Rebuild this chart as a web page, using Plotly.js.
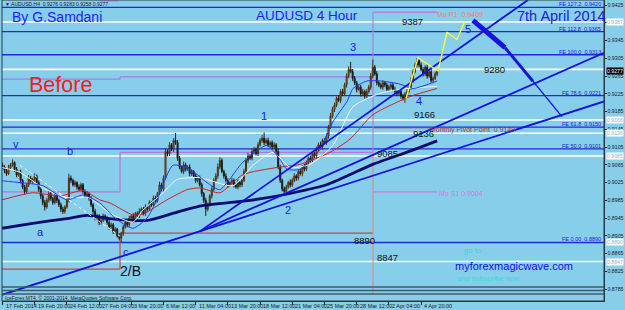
<!DOCTYPE html>
<html><head><meta charset="utf-8">
<script src="https://cdn.plot.ly/plotly-3.0.1.min.js"></script>
<style>html,body{margin:0;padding:0;background:#87CEEB;}#chart{width:625px;height:310px;}</style>
</head><body><div id="chart"></div>
<script>
// ---------- DATA (prices in pips, /10000 = price) ----------
const firstOpen = 9065;
const closes = [9060,9052,9045,9058,9065,9070,9055,9042,9048,9030,
9015,9005,9020,9035,9028,9032,9040,9025,9010,8995,
8980,8970,8985,9000,8990,8980,8995,8985,8975,8965,
8960,8970,8985,9035,9030,9020,9025,9015,9010,9020,
9005,8995,9000,8990,8975,8960,8945,8950,8935,8940,
8950,8945,8935,8925,8930,8915,8920,8905,8900,8910,
8925,8935,8930,8945,8950,8940,8955,8950,8960,8965,
8955,8970,8965,8980,8975,8990,8985,9000,9020,9010,
9035,9095,9090,9110,9100,9120,9115,9080,9060,9050,
9065,9055,9060,9045,9050,9040,9030,9035,9020,9000,
8985,8965,8975,8995,9010,9030,9040,9060,9075,9050,
9040,9030,9020,9025,9030,9020,9015,9025,9020,9030,
9050,9075,9085,9080,9095,9100,9090,9110,9120,9125,
9115,9120,9110,9115,9105,9110,9095,9060,9030,9010,
9005,9015,9025,9020,9030,9040,9035,9050,9045,9060,
9055,9070,9080,9075,9090,9085,9100,9110,9105,9120,
9115,9130,9150,9175,9190,9200,9215,9210,9230,9225,
9245,9265,9280,9275,9260,9250,9235,9240,9225,9230,
9220,9230,9240,9265,9285,9270,9250,9245,9240,9250,
9245,9235,9240,9245,9235,9230,9225,9230,9220,9215,
9225,9230,9240,9255,9275,9290,9300,9290,9280,9270,
9285,9265,9275,9255,9260,9270,9277];
const wickUp = [5,4,6,7,4,7,3,5,4,6,3,5,4,7,5,4,6,3,5,4,
4,6,5,7,4,3,6,5,4,5,6,4,5,10,6,4,5,3,6,5,
4,5,6,3,5,4,6,5,4,7,5,3,4,6,5,4,5,3,6,4,
5,4,6,5,3,6,4,5,7,4,5,6,4,5,3,6,5,4,7,5,
6,8,5,6,4,5,17,6,5,4,7,5,4,6,5,3,5,4,6,5,
4,6,5,4,7,5,6,8,7,5,4,6,5,3,6,4,5,7,4,5,
6,5,7,4,6,5,4,6,5,7,13,5,6,4,5,6,4,7,5,4,
6,5,4,7,5,6,4,5,6,4,7,5,4,6,5,4,6,5,7,4,
5,6,5,7,6,5,4,7,5,6,5,6,7,17,6,5,4,7,5,6,
4,6,5,7,17,5,6,4,5,6,4,5,6,4,5,6,5,4,6,5,
4,6,5,7,6,5,6,5,6,5,4,6,5,6,4,5,3];
const wickDn = [4,6,5,3,5,4,6,5,4,7,5,6,4,5,3,6,5,4,6,7,
6,8,4,5,6,5,4,6,5,7,6,5,4,5,6,4,5,6,4,5,
6,5,4,6,5,7,5,4,6,5,4,6,5,7,4,6,5,4,5,10,
5,4,6,5,4,6,5,4,5,6,4,5,6,4,5,4,6,5,4,5,
5,4,6,5,4,6,5,6,5,4,6,5,4,6,5,4,6,5,4,7,
6,15,5,4,6,5,4,6,5,4,6,5,7,4,5,6,4,5,6,5,
4,5,6,4,5,6,4,5,4,5,6,4,5,6,5,4,6,5,6,5,
7,5,4,6,5,4,6,5,4,6,5,4,6,5,4,5,6,4,5,6,
4,5,6,4,5,6,5,4,6,5,4,6,5,4,6,5,7,4,6,5,
6,5,4,6,5,4,6,5,4,6,5,4,6,5,4,6,5,4,6,5,
10,5,4,6,5,4,6,5,4,6,5,6,4,5,6,4,5];

const dateTickBars = [0,16,32,48,64,80,96,112,128,144,160,176,192,208];
const dateTickText = ['17 Feb 2014','19 Feb 20:00','24 Feb 12:00','27 Feb 04:00','3 Mar 20:00','6 Mar 12:00','11 Mar 04:00','13 Mar 20:00','18 Mar 12:00','21 Mar 04:00','25 Mar 20:00','28 Mar 12:00','2 Apr 04:00','4 Apr 20:00'];
const priceTicks = [0.9425,0.9385,0.9345,0.9305,0.9265,0.9225,0.9185,0.9145,0.9105,0.9065,0.9025,0.8985,0.8945,0.8905,0.8865,0.8825,0.8785];

// Moving averages (bar index, pips)
const maNavyX = [-0.25,15,32,42,53,72,85,98,123,139,161,184,202.5,216];
const maNavyY = [8922,8933,8944,8951,8944,8940,8956,8972,8985,8997,9020,9066,9096,9119];
const maRedX = [-0.25,15,28.6,40,48.4,53.4,64.8,69.8,81.7,91.7,98.1,108,119.5,136.4,147.8,162.7,172.7,184.1,202.5,216];
const maRedY = [8986,9002,8995,9007,8986,8979,8952,8954,8986,9009,9013,9002,9043,9059,9066,9093,9123,9178,9219,9237];
const maBlueX = [-0.25,8.7,20,32,40,48.4,55.9,64.8,71.8,76.8,84.7,93.2,101.6,108,119.5,131.4,137.9,141.4,147.8,157.8,164.2,171.2,174.2,181.1,187.6,197.5,204,216];
const maBlueY = [9029,9025,9018,8986,8997,8979,8945,8922,8945,8986,9064,9055,9025,9009,9071,9109,9077,9055,9055,9100,9162,9208,9237,9254,9254,9247,9237,9254];
const maWhiteX = [-0.25,8.7,20,32,43,53.4,64.8,69.8,79.8,86.7,98.1,114.5,124.5,134.4,142.9,152.8,164.2,174.2,187.6,197.5,216];
const maWhiteY = [9059,9048,9013,8991,8991,8956,8936,8963,9002,9032,9036,9018,9064,9093,9059,9066,9109,9196,9226,9235,9242];
const dottedX = [8.7,58.4];
const dottedY = [9064,8904];

// Horizontal levels
const whiteLevels = [0.9387,0.9280,0.9166,0.9136,0.9085,0.8847];
const feLevels = [0.9420,0.9365,0.9313,0.9221,0.9150,0.9101,0.8890];
const feNames = ['127.2','112.8','100.0','78.6','61.8','50.0','0.00'];
const tagPrices = [0.9387,0.9166,0.9136,0.9085,0.8890,0.8847];
const currentPrice = 0.9277;
const numberLevels = [0.9387,0.9280,0.9166,0.9136,0.9085,0.8890,0.8847];

// Monthly pivots (Feb, Mar, Apr)
const monthStart = [-0.25,58.4,184.1];
const monthEnd = [58.4,184.1,216];
const pivR1 = [0.9258,0.9263,0.9409];
const pivP = [0.9004,0.9093,0.9149];
const pivS1 = [0.8830,0.8911,0.9004];

// Trend lines [x0,y0,x1,y1]
const trendLines = [[-0.25,0.87721,298.9,0.92078],[98.1,0.89150,261.1,0.94364],[98.1,0.89150,298.9,0.93175]];
const projX = [233.8,249.7,263.6,278];
const projY = [0.93907,0.93290,0.92535,0.91735];
const yellowX = [200.5,206.5,216.4,220.9,225.8,229.8];
const yellowY = [0.92146,0.93061,0.92764,0.93633,0.93473,0.93884];

// ---------- BUILD ----------
const N = closes.length;
const bars=[],O=[],H=[],L=[],C=[];
for(let i=0;i<N;i++){
  const o = i===0?firstOpen:closes[i-1], c = closes[i];
  bars.push(i); O.push(o/1e4); C.push(c/1e4);
  H.push((Math.max(o,c)+wickUp[i])/1e4); L.push((Math.min(o,c)-wickDn[i])/1e4);
}
const toP = a => a.map(v=>v/1e4);
const yTop = 0.943643, yBot = 0.875812;
const FONT = 'Liberation Sans, Arial, sans-serif';

const traces = [];
traces.push({type:'candlestick',x:bars,open:O,high:H,low:L,close:C,
  increasing:{line:{color:'#4a3010',width:1},fillcolor:'#b8732e'},
  decreasing:{line:{color:'#1a1a1a',width:1},fillcolor:'#1a1a1a'},
  whiskerwidth:0,hoverinfo:'skip'});
function line(x,y,color,width,extra){traces.push(Object.assign({type:'scatter',mode:'lines',x:x,y:y,hoverinfo:'skip',line:{color:color,width:width}},extra||{}));}
line(maNavyX,toP(maNavyY),'#0b0b70',2.8,{line:{color:'#0b0b70',width:2.8,shape:'spline',smoothing:0.6}});
line(maRedX,toP(maRedY),'#d02020',1,{line:{color:'#d02020',width:1,shape:'spline',smoothing:0.6}});
line(maWhiteX,toP(maWhiteY),'#f4f8ff',1,{line:{color:'#f4f8ff',width:1,shape:'spline',smoothing:0.6}});
line(maBlueX,toP(maBlueY),'#1f3dff',1,{line:{color:'#1f3dff',width:1,shape:'spline',smoothing:0.6}});
line(dottedX,toP(dottedY),'#ffffff',1,{line:{color:'#ffffff',width:1,dash:'dot'}});
trendLines.forEach(t=>line([t[0],t[2]],[t[1],t[3]],'#1212e0',1.8));
const projW=[5,3,1.4];
for(let i=0;i<projX.length-1;i++) line([projX[i],projX[i+1]],[projY[i],projY[i+1]],'#1414dc',projW[i]);
line(yellowX,yellowY,'#ffff33',1.3);

const shapes=[];
whiteLevels.forEach(v=>shapes.push({type:'line',xref:'paper',x0:0,x1:1,yref:'y',y0:v,y1:v,line:{color:'#ffffff',width:1.6},layer:'below'}));
feLevels.forEach(v=>shapes.push({type:'line',xref:'paper',x0:0,x1:1,yref:'y',y0:v,y1:v,line:{color:'#2626dc',width:1.3},layer:'below'}));
const r1c=['#a57be6','#a57be6','#c070e0'], pc=['#c470d4','#c470d4','#b03838'], s1c=['#cc4444','#cc4444','#e070e0'];
for(let i=0;i<3;i++){
  shapes.push({type:'line',x0:monthStart[i],x1:monthEnd[i],y0:pivR1[i],y1:pivR1[i],line:{color:r1c[i],width:1.2},layer:'below'});
  shapes.push({type:'line',x0:monthStart[i],x1:monthEnd[i],y0:pivP[i],y1:pivP[i],line:{color:pc[i],width:1.2},layer:'below'});
  shapes.push({type:'line',x0:monthStart[i],x1:monthEnd[i],y0:pivS1[i],y1:pivS1[i],line:{color:s1c[i],width:1.2},layer:'below'});
}
shapes.push({type:'line',x0:monthStart[1],x1:monthStart[1],y0:pivR1[0],y1:pivR1[1],line:{color:'#a57be6',width:1.2},layer:'below'});
shapes.push({type:'line',x0:monthStart[1],x1:monthStart[1],y0:pivP[0],y1:pivP[1],line:{color:'#c470d4',width:1.2},layer:'below'});
shapes.push({type:'line',x0:monthStart[1],x1:monthStart[1],y0:pivS1[0],y1:pivS1[1],line:{color:'#cc4444',width:1.2},layer:'below'});
shapes.push({type:'line',x0:monthStart[2],x1:monthStart[2],y0:pivR1[2],y1:pivP[1],line:{color:'#b080d8',width:1.2},layer:'below'});
shapes.push({type:'line',x0:monthStart[2],x1:monthStart[2],y0:pivP[1],y1:0.87733,line:{color:'#e08888',width:1.2},layer:'below'});
shapes.push({type:'line',x0:48.4,x1:57.4,y0:0.94341,y1:0.94341,line:{color:'#e070e0',width:1.2},layer:'below'});
// bottom sub-window bars
[287,290.5,294].forEach(py=>shapes.push({type:'line',xref:'paper',yref:'paper',x0:0,x1:1,y0:1-py/301,y1:1-py/301,line:{color:'#3f5a68',width:1.4}}));
shapes.push({type:'rect',xref:'paper',yref:'paper',x0:0,x1:1,y0:0,y1:1,line:{color:'#2a3a44',width:1}});

const ann=[];
function txt(text,px,py,size,color,xa,extra){ann.push(Object.assign({xref:'paper',yref:'paper',x:(px-2)/602,y:1-py/301,text:text,showarrow:false,xanchor:xa||'left',yanchor:'middle',font:{family:FONT,size:size,color:color}},extra||{}));}
txt('By G.Samdani',10,17.5,14,'#1c1cff');
txt('AUDUSD 4 Hour',254,15.5,13.5,'#1c1cff');
txt('7th April 2014',515,16.5,14.5,'#2020e0');
txt('Before',27,84.5,21.5,'#ff1a1a');
txt('myforexmagicwave.com',453,266,11,'#1010e6');
txt('go to',462,250,7.5,'#3fd6d0');
txt('and subscribe now',455,278.5,7.5,'#3fd6d0');
[['v',15.5,144],['b',70,150.5],['a',40,231.5],['c',126,251.5],['1',264,115.5],['2',288,210],['3',353,47.5],['4',419,101.5],['5',468,28.5]].forEach(w=>txt(w[0],w[1],w[2],11,'#1a1ae6','center'));
txt('2/B',118,270.5,14,'#111111');
txt('▼ AUDUSD,H4  0.9276 0.9283 0.9258 0.9277',3,3.5,5,'#1a1a1a');
txt('IceForex MT4, © 2001-2014, MetaQuotes Software Corp.',3,297.5,5,'#1a1a1a');
txt('Mo R1  0.9409',435,15,7,'#e88080');
txt('Monthly Pivot Point  0.9149',428,129.5,7,'#b03434');
txt('Mo S1 0.9004',437,193,7,'#e070e0');
// level numbers
const numPx=[400,482,412,411,375,352,375], numShift=[0.6,0,6,0,2,2,4];
numberLevels.forEach((v,i)=>ann.push({xref:'paper',yref:'y',x:(numPx[i]-2)/602,y:v,yshift:numShift[i],text:String(Math.round(v*1e4)),showarrow:false,xanchor:'left',yanchor:'middle',font:{family:FONT,size:9.5,color:'#111'}}));
// FE labels
feLevels.forEach((v,i)=>ann.push({xref:'paper',yref:'y',x:1,xshift:-1,y:v,yshift:3,text:'FE '+feNames[i]+'  '+v.toFixed(4),showarrow:false,xanchor:'right',yanchor:'middle',font:{family:FONT,size:5.5,color:'#2020e0'}}));
// price tags
tagPrices.forEach(v=>ann.push({xref:'paper',yref:'y',x:1,xshift:1.5,y:v,text:v.toFixed(4),showarrow:false,xanchor:'left',yanchor:'middle',bgcolor:'#ffffff',borderpad:0,font:{family:FONT,size:5.2,color:'#9ab0c8'}}));
ann.push({xref:'paper',yref:'y',x:1,xshift:1.5,y:currentPrice,text:currentPrice.toFixed(4),showarrow:false,xanchor:'left',yanchor:'middle',bgcolor:'#000000',borderpad:0,font:{family:FONT,size:5.2,color:'#ffffff'}});
// date labels
dateTickBars.forEach((b,i)=>ann.push({xref:'x',yref:'paper',x:b,xshift:1,y:1-306/301,text:dateTickText[i],showarrow:false,xanchor:'left',yanchor:'middle',font:{family:FONT,size:5.5,color:'#1a1a1a'}}));

const layout={width:625,height:310,margin:{l:2,r:21,t:0,b:9,pad:0},
  paper_bgcolor:'#87CEEB',plot_bgcolor:'#87CEEB',showlegend:false,
  font:{family:FONT,size:6,color:'#1a1a1a'},
  xaxis:{range:[-0.25,298.9],showgrid:false,zeroline:false,rangeslider:{visible:false},tickvals:dateTickBars,ticks:'outside',ticklen:3,tickcolor:'#222',showticklabels:false,showline:true,linecolor:'#2a3a44',linewidth:1,fixedrange:true},
  yaxis:{range:[yBot,yTop],side:'right',showgrid:false,zeroline:false,tickvals:priceTicks,ticktext:priceTicks.map(v=>v.toFixed(4)),ticks:'outside',ticklen:1.5,tickcolor:'#222',tickfont:{family:FONT,size:5.2,color:'#1a1a1a'},showline:true,linecolor:'#2a3a44',linewidth:1,automargin:false},
  shapes:shapes,annotations:ann};
Plotly.newPlot('chart',traces,layout,{staticPlot:true,displayModeBar:false});
</script></body></html>
